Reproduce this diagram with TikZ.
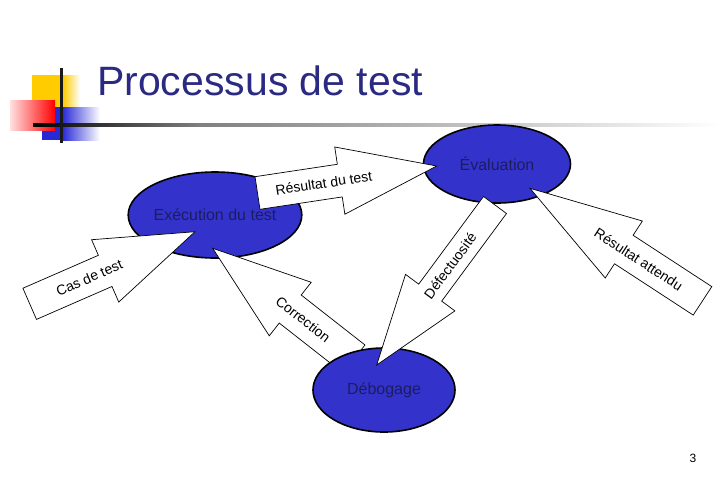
\documentclass[tikz,border=0pt]{standalone}
\usepackage{fontspec}
\setmainfont{Liberation Sans}
\usetikzlibrary{shapes.geometric,calc}
\definecolor{ellblue}{RGB}{51,51,204}
\definecolor{elltext}{RGB}{28,28,96}
\definecolor{titleblue}{RGB}{42,42,130}
\definecolor{logoyellow}{RGB}{255,204,0}
\definecolor{logoblue}{RGB}{40,40,215}
\tikzset{
  procnode/.style={ellipse, draw=black, line width=1.6pt, fill=ellblue, inner sep=0pt,
    text=elltext, font=\fontsize{16}{18}\selectfont},
  blockarrow/.style={draw=black, line width=0.7pt, fill=white, line join=miter},
  arrowlabel/.style={font=\fontsize{14}{16}\selectfont, text=black, inner sep=0pt},
}
% #1 tail, #2 tip, #3 half shaft width, #4 half head width, #5 head length, #6 label, #7 label pos
\newcommand\blockarrow[7]{%
  \coordinate (#1-hb) at ($(#2)!#5!(#1)$);
  \draw[blockarrow] ($(#1)!#3!90:(#2)$) -- ($(#1-hb)!#3!90:(#2)$) -- ($(#1-hb)!#4!90:(#2)$)
     -- (#2) -- ($(#1-hb)!#4!-90:(#2)$) -- ($(#1-hb)!#3!-90:(#2)$) -- ($(#1)!#3!-90:(#2)$) -- cycle;
  \path (#1) -- (#2) node[arrowlabel, pos=#7, sloped] {#6};
}
\begin{document}
\begin{tikzpicture}[x=1pt,y=-1pt]
\useasboundingbox (0,0) rectangle (720,480);
\fill[white] (0,0) rectangle (720,480);
% logo
\fill[logoyellow] (32,75) rectangle (63,110);
\shade[left color=logoyellow, right color=white] (63,75) rectangle (80,110);
\fill[logoblue] (42,107) rectangle (62,140);
\shade[left color=logoblue, right color=white] (62,107) rectangle (100,140);
\shade[left color=red!12, right color=red] (10,100) rectangle (55,130);
\shade[left color=black, right color=black!50] (33,123.8) rectangle (200,126.6);
\shade[left color=black!50, right color=white] (200,123.8) rectangle (720,126.6);
\fill[black!90] (60,68) rectangle (62.5,143);
% title
\node[anchor=base west, inner sep=0pt, text=titleblue, font=\fontsize{41}{46}\selectfont] (title) at (97,95) {Processus de test};
\node[inner sep=0pt, font=\fontsize{12}{14}\selectfont] (page) at (693,458) {3};
% process nodes
\node[procnode, minimum width=144pt, minimum height=86pt] (exec) at (215,215) {Exécution du test};
\node[procnode, minimum width=147pt, minimum height=78pt] (eval) at (497,164) {Évaluation};
% correction arrow (under Débogage)
\coordinate (corT) at ($(exec.center)+(-2.3,33.3)$);
\coordinate (corS) at (354,359);
\blockarrow{corS}{corT}{17.8pt}{34pt}{98.5pt}{Correction}{0.36}
\node[procnode, minimum width=142pt, minimum height=84pt] (debog) at (384,390) {Débogage};
% other arrows
\coordinate (casS) at (29.7,303.8);
\coordinate (casT) at ($(exec.center)+(-20,16.7)$);
\blockarrow{casS}{casT}{17pt}{34pt}{98pt}{Cas de test}{0.36}
\coordinate (resS) at ($(exec.center)+(42.5,-22)$);
\coordinate (resT) at ($(eval.center)+(-60.3,2)$);
\blockarrow{resS}{resT}{16.5pt}{34pt}{98pt}{Résultat du test}{0.37}
\coordinate (defS) at ($(eval.center)+(-2,41)$);
\coordinate (defT) at ($(debog.center)+(-7.3,-25)$);
\blockarrow{defS}{defT}{14.3pt}{30.7pt}{90pt}{Défectuosité}{0.38}
\coordinate (attS) at (702.5,300.85);
\coordinate (attT) at ($(eval.center)+(33,24.3)$);
\blockarrow{attS}{attT}{17pt}{34pt}{112pt}{Résultat attendu}{0.37}
\end{tikzpicture}
\end{document}
